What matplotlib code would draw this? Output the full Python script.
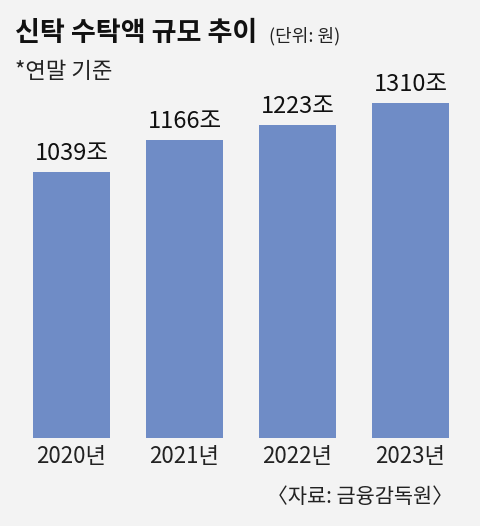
import matplotlib
matplotlib.use("Agg")
import matplotlib.pyplot as plt

plt.rcParams['font.family'] = ['Noto Sans CJK KR', 'DejaVu Sans']

years = ["2020년", "2021년", "2022년", "2023년"]
values = [1039, 1166, 1223, 1310]
value_labels = ["1039조", "1166조", "1223조", "1310조"]

bg = "#f3f3f3"
bar_color = "#6f8cc6"

fig = plt.figure(figsize=(4.8, 5.26), dpi=100, facecolor=bg)

# axes: bottom at bar baseline, scale ~0.256 px per unit
ax_bottom_px = 438
ax_top_px = 60
h_px = ax_bottom_px - ax_top_px
ax = fig.add_axes([0, (526 - ax_bottom_px) / 526, 1, h_px / 526])
ax.set_facecolor(bg)

x = list(range(len(years)))
ax.bar(x, values, width=0.68, color=bar_color)
ax.set_xlim(-71.5 / 113, (480 - 71.5) / 113)
ax.set_ylim(0, h_px / 0.256)

for xi, v, lab in zip(x, values, value_labels):
    ax.annotate(lab, (xi, v), xytext=(0, 5), textcoords="offset points",
                ha="center", va="bottom", fontsize=17, color="#111111")

ax.set_xticks(x)
ax.set_xticklabels(years, fontsize=16, color="#222222")
ax.tick_params(axis="x", length=0, pad=5)
ax.set_yticks([])
for s in ax.spines.values():
    s.set_visible(False)

title = fig.text(15 / 480, 1 - 33 / 526, "신탁 수탁액 규모 추이", fontsize=19.5,
                 fontweight="bold", color="#111111", va="center", ha="left")
fig.canvas.draw()
tb = title.get_window_extent()
fig.text((tb.x1 + 12) / 480, 1 - 36 / 526, "(단위: 원)", fontsize=13, color="#222222",
         va="center", ha="left")
fig.text(15 / 480, 1 - 71 / 526, "*연말 기준", fontsize=16, color="#222222",
         va="center", ha="left")
fig.text(453 / 480, 1 - 497 / 526, "〈자료: 금융감독원〉", fontsize=15, color="#222222",
         va="center", ha="right")

fig.savefig("out.png", dpi=100, facecolor=bg)
